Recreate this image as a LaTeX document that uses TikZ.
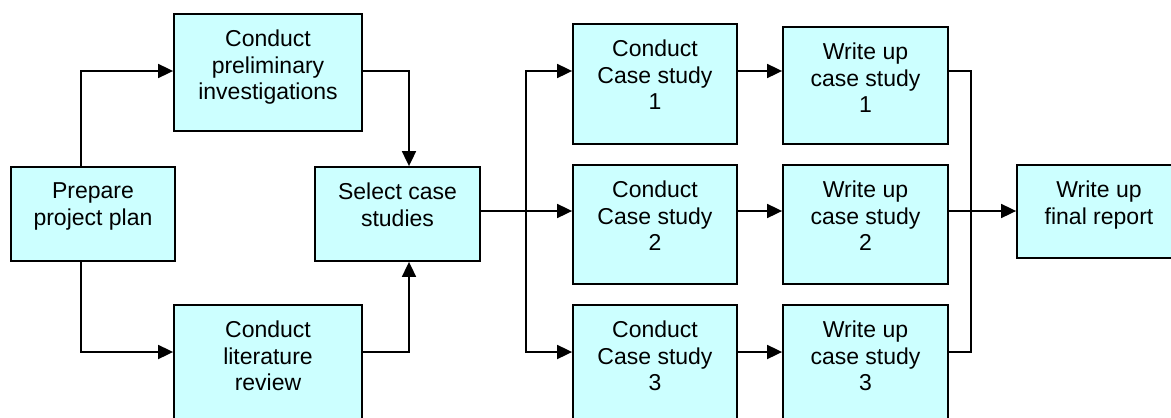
\documentclass[tikz,border=0pt]{standalone}
\usepackage{fontspec}
\setmainfont{Liberation Sans}
\usetikzlibrary{arrows.meta}
\definecolor{boxfill}{RGB}{204,255,255}
\newcommand{\boxtext}[3]{\parbox[c][#2][t]{#1}{\centering\vspace*{16pt}#3}}
\begin{document}
\begin{tikzpicture}[x=1pt, y=-1pt,
  font=\fontsize{23}{26.5}\selectfont,
  box/.style={draw=black, line width=1.8pt, fill=boxfill, inner sep=0pt, rectangle},
  conn/.style={line width=1.8pt, -{Triangle[length=15pt,width=14pt]}},
  plain/.style={line width=1.8pt}]
\useasboundingbox (0,0) rectangle (1171,418);
\clip (0,0) rectangle (1171,418);

\node[box] (prep) at (93,214)    {\boxtext{164pt}{94pt}{Prepare\\project plan}};
\node[box] (prel) at (268,72.5)  {\boxtext{188pt}{117pt}{Conduct\\preliminary\\investigations}};
\node[box] (lit)  at (268,363.5) {\boxtext{188pt}{117pt}{Conduct\\literature\\review}};
\node[box] (sel)  at (397.5,214) {\boxtext{165pt}{94pt}{Select case\\studies}};
\node[box] (c1)   at (655,84)    {\boxtext{164pt}{120pt}{Conduct\\Case study\\1}};
\node[box] (c2)   at (655,224.5) {\boxtext{164pt}{119pt}{Conduct\\Case study\\2}};
\node[box] (c3)   at (655,365)   {\boxtext{164pt}{120pt}{Conduct\\Case study\\3}};
\node[box] (w1)   at (865.5,85.5){\boxtext{165pt}{117pt}{Write up\\case study\\1}};
\node[box] (w2)   at (865.5,224.5){\boxtext{165pt}{119pt}{Write up\\case study\\2}};
\node[box] (w3)   at (865.5,365) {\boxtext{165pt}{120pt}{Write up\\case study\\3}};
\node[box] (fin)  at (1099,211.5){\boxtext{164pt}{93pt}{Write up\\final report}};

\coordinate (ja) at (81,71);
\coordinate (jb) at (81,352);
\coordinate (jc) at (409,71);
\coordinate (jd) at (409,352);
\coordinate (br) at (526,211);
\coordinate (br1) at (526,71);
\coordinate (br3) at (526,352);
\coordinate (mg) at (971,211);

\draw[conn] (prep.north -| ja) |- (prel.west |- ja);
\draw[conn] (prep.south -| jb) |- (lit.west |- jb);
\draw[conn] (prel.east |- jc) -| (sel.north -| jc);
\draw[conn] (lit.east |- jd) -| (sel.south -| jd);

\draw[conn] (sel.east |- br) -- (c2.west |- br);
\draw[conn] (br) |- (c1.west |- br1);
\draw[conn] (br) |- (c3.west |- br3);

\draw[conn] (c1.east |- br1) -- (w1.west |- br1);
\draw[conn] (c2.east |- br) -- (w2.west |- br);
\draw[conn] (c3.east |- br3) -- (w3.west |- br3);

\draw[plain] (w1.east |- br1) -| (mg);
\draw[plain] (w3.east |- br3) -| (mg);
\draw[conn] (w2.east |- mg) -- (fin.west |- mg);
\end{tikzpicture}
\end{document}
